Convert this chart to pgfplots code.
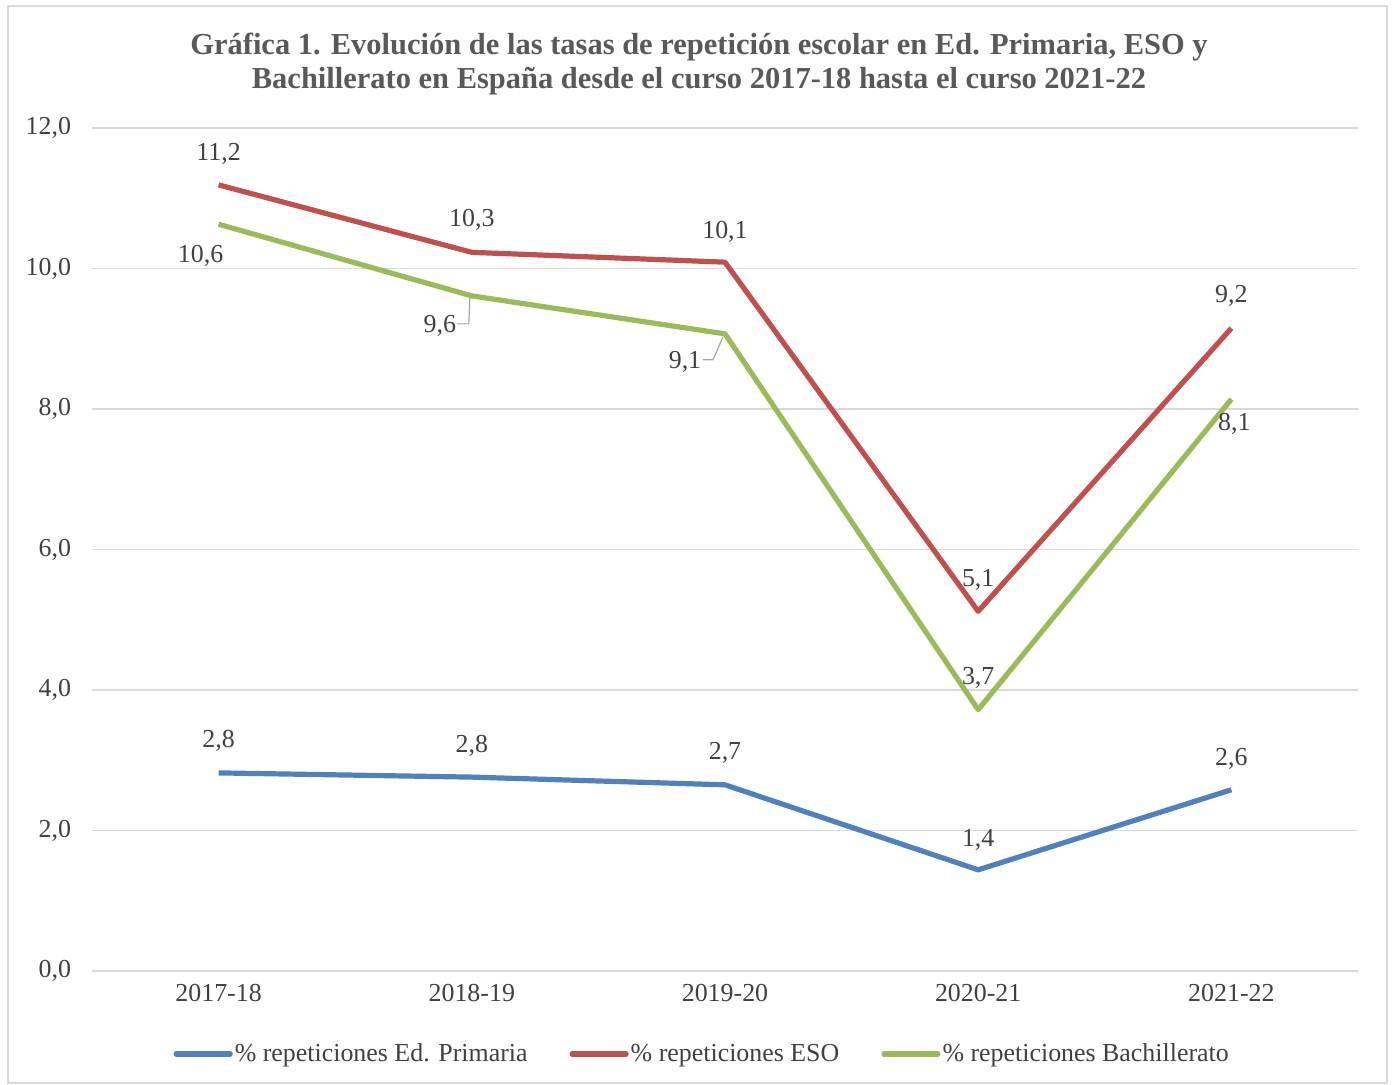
\documentclass[border=0pt]{standalone}
\usepackage{fontspec}
\setmainfont{Liberation Serif}
\usepackage{pgfplots}
\pgfplotsset{compat=1.18}
\definecolor{txt}{HTML}{404040}
\definecolor{ttl}{HTML}{595959}
\definecolor{gridc}{HTML}{D9D9D9}
\definecolor{cblue}{HTML}{4F81BD}
\definecolor{cred}{HTML}{C0504D}
\definecolor{cgreen}{HTML}{9BBB59}
\begin{document}
\begin{tikzpicture}
\useasboundingbox (-46bp,-57bp) rectangle (650bp,485.5bp);
\draw[draw=gray!30, line width=0.8bp] (-42bp,-56bp) rectangle (647.5bp,482.5bp);
\node[font=\bfseries\fontsize{15.3}{17}\selectfont, text=ttl, align=center] at (303.5bp,453.5bp)
  {Gráfica 1. Evolución de las tasas de repetición escolar en Ed. Primaria, ESO y\\Bachillerato en España desde el curso 2017-18 hasta el curso 2021-22};
\begin{axis}[
  at={(0bp,0bp)}, anchor=south west,
  scale only axis, width=633bp, height=421.5bp,
  xmin=-0.5, xmax=4.5, ymin=0, ymax=12,
  xtick={0,1,2,3,4},
  xticklabels={2017-18,2018-19,2019-20,2020-21,2021-22},
  ytick={0,2,4,6,8,10,12},
  axis line style={draw=none},
  tick style={draw=none},
  ymajorgrids,
  grid style={color=gridc, line width=0.9bp},
  /pgf/number format/.cd, fixed, fixed zerofill, precision=1, use comma, assume math mode=true,
  /pgfplots/.cd,
  ticklabel style={font=\fontsize{13}{15}\selectfont, text=txt},
  yticklabel style={anchor=east, xshift=-7bp},
  xticklabel style={anchor=center, yshift=-11bp},
  legend columns=-1,
  legend cell align=left,
  legend style={draw=none, fill=none, font=\fontsize{13}{15}\selectfont, text=txt,
    at={(axis description cs:0.482,0)}, anchor=center, yshift=-41.5bp,
    nodes={inner sep=1bp},
    /tikz/every odd column/.append style={column sep=0bp},
    /tikz/every even column/.append style={column sep=20bp},
    inner sep=0pt},
  legend image code/.code={\draw[#1, line cap=round] (0bp,0bp) -- (27bp,0bp);},
  point meta=explicit symbolic,
  nodes near coords,
  visualization depends on={\thisrow{dx} \as \dx},
  visualization depends on={\thisrow{dy} \as \dy},
  every node near coord/.append style={anchor=center, xshift=\dx bp, yshift=\dy bp,
    font=\fontsize{13}{15}\selectfont, text=txt, inner sep=0pt},
]
\addplot[cblue, line width=2.6bp, line join=round] table[x=x, y=y, meta=l] {
x y l dx dy
0 2.82 2,8 0 16
1 2.76 2,8 0 15.5
2 2.65 2,7 0 16
3 1.44 1,4 0 15
4 2.58 2,6 0 15.5
};
\addlegendentry{\% repeticiones Ed. Primaria}
\addplot[cred, line width=2.6bp, line join=round] table[x=x, y=y, meta=l] {
x y l dx dy
0 11.19 11,2 0 15.5
1 10.23 10,3 0 16
2 10.09 10,1 0 15
3 5.12 5,1 0 15.5
4 9.15 9,2 0 16
};
\addlegendentry{\% repeticiones ESO}
\addplot[cgreen, line width=2.6bp, line join=round] table[x=x, y=y, meta=l] {
x y l dx dy
0 10.63 10,6 -9 -16
1 9.61 9,6 -16 -15
2 9.07 9,1 -20 -14
3 3.72 3,7 0 16
4 8.14 8,1 1.5 -12.5
};
\addlegendentry{\% repeticiones Bachillerato}
\draw[gray!70, line width=0.6bp] ([xshift=-7.5bp,yshift=-14bp]axis cs:1,9.61) -- ([xshift=-1.5bp,yshift=-14bp]axis cs:1,9.61) -- ([xshift=-1bp,yshift=-1bp]axis cs:1,9.61);
\draw[gray!70, line width=0.6bp] ([xshift=-11bp,yshift=-13bp]axis cs:2,9.07) -- ([xshift=-6bp,yshift=-13bp]axis cs:2,9.07) -- ([xshift=-1bp,yshift=-1.5bp]axis cs:2,9.07);
\end{axis}
\end{tikzpicture}
\end{document}
